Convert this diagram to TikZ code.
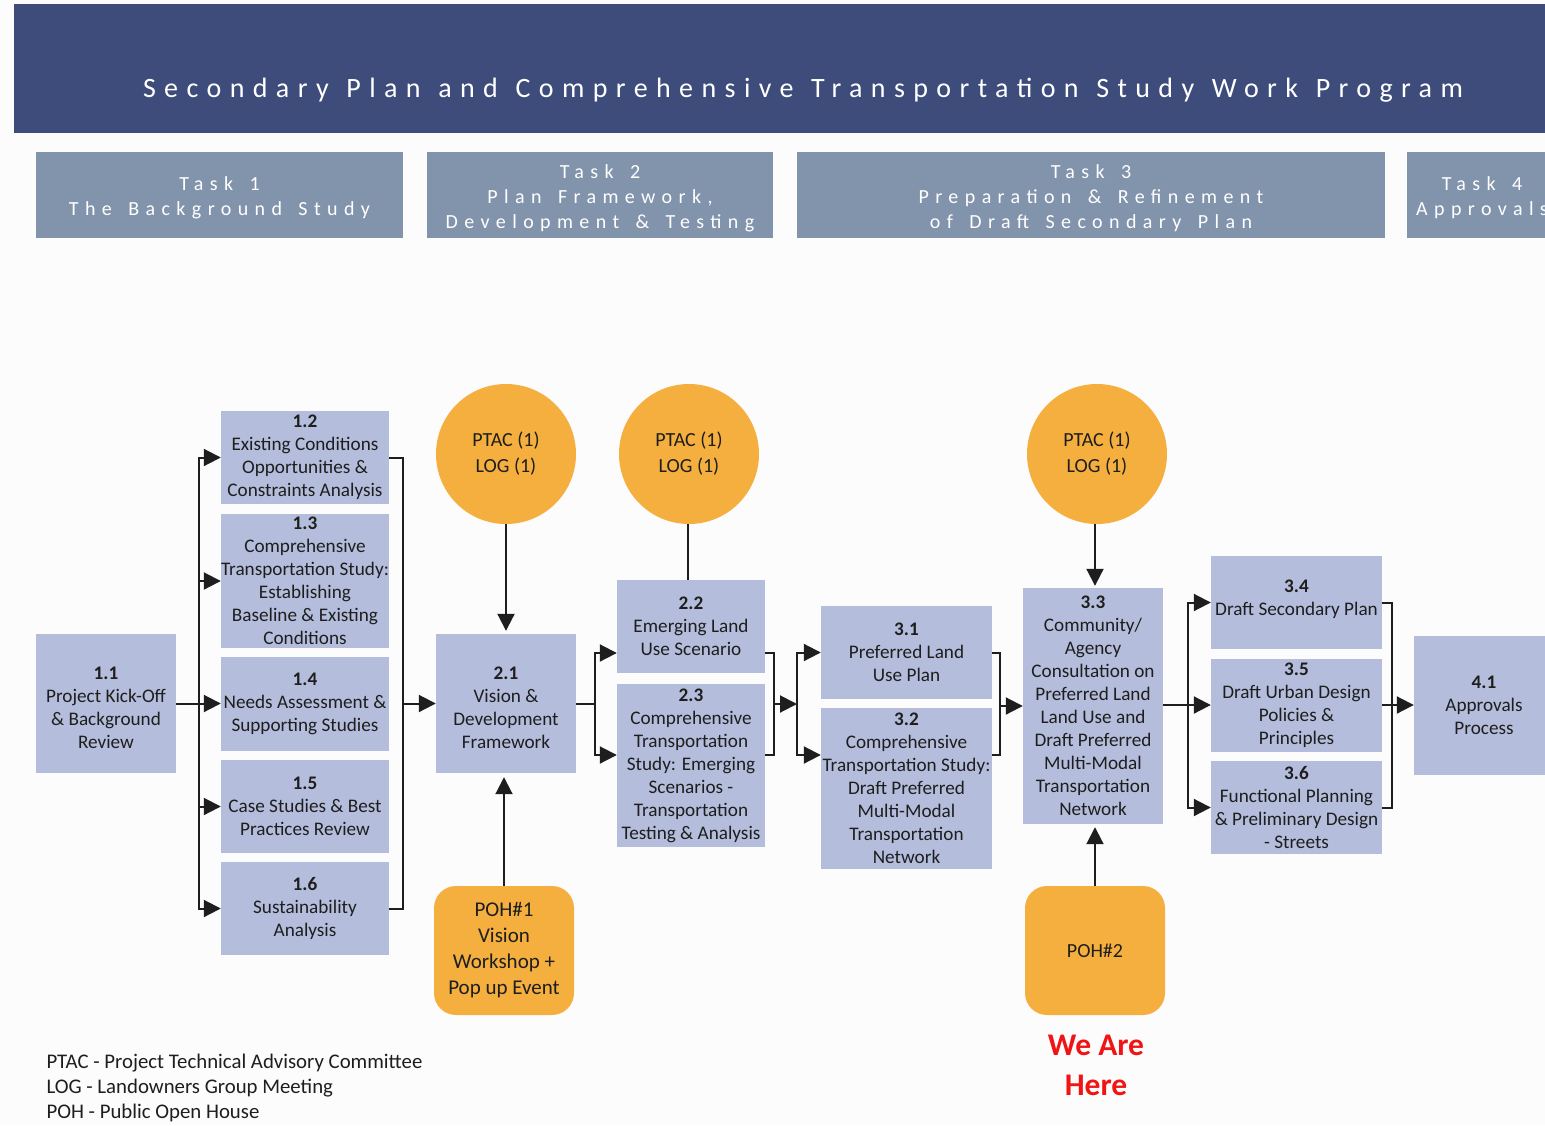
\documentclass[tikz,border=0pt]{standalone}
\usepackage{fontspec}
\setmainfont{Carlito}
\newfontfamily\spacedfont[LetterSpace=32,WordSpace=1.5]{Carlito}
\newfontfamily\titlefont[LetterSpace=30,WordSpace=1.2]{Carlito}
\usepackage{tikz}
\usetikzlibrary{positioning}
\usetikzlibrary{arrows.meta}

\definecolor{bannerblue}{RGB}{62,76,124}
\definecolor{taskgrey}{RGB}{130,148,172}
\definecolor{boxblue}{RGB}{180,190,220}
\definecolor{meetorange}{RGB}{245,175,62}
\definecolor{inkgrey}{RGB}{30,30,30}
\definecolor{herered}{RGB}{240,20,20}

\tikzset{
	task/.style={fill=taskgrey, text=white, align=center, inner sep=0pt,
		minimum height=86pt, font=\spacedfont\fontsize{20}{25}\selectfont},
	stepbox/.style={fill=boxblue, text=inkgrey, align=center, inner sep=0pt,
		font=\fontsize{19.2}{23}\selectfont},
	meeting/.style={circle, fill=meetorange, text=inkgrey, align=center, inner sep=0pt,
		minimum size=140pt, font=\fontsize{20}{26}\selectfont},
	openhouse/.style={rounded corners=22pt, fill=meetorange, text=inkgrey, align=center,
		inner sep=0pt, minimum width=140pt, minimum height=129pt, font=\fontsize{21}{26}\selectfont},
	link/.style={line width=2pt, draw=inkgrey},
	flow/.style={link, -{Triangle[length=17pt,width=17pt]}},
}

\begin{document}
\begin{tikzpicture}[x=1pt,y=-1pt]
	\useasboundingbox (0,0) rectangle (1545,1125);
	\clip (0,0) rectangle (1545,1125);
	\fill[white!99!black] (0,0) rectangle (1545,1125);

	%Banner
	\fill[bannerblue] (14,4) rectangle (1560,133);
	\node[text=white, font=\titlefont\fontsize{28}{30}\selectfont] (title) at (803,90)
		{Secondary Plan and Comprehensive Transportation Study Work Program};

	%Tasks
	\node[task, minimum width=367pt] (T1) at (219.5,195) {\mbox{}\\[-5pt]Task 1\\The Background Study};
	\node[task, minimum width=346pt] (T2) at (600,195) {\mbox{}\\[-5pt]Task 2\\Plan Framework,\\Development \& Testing};
	\node[task, minimum width=588pt] (T3) at (1091,195) {\mbox{}\\[-5pt]Task 3\\Preparation \& Refinement\\of Draft Secondary Plan};
	\node[task, minimum width=150pt] (T4) at (1482,195) {\mbox{}\\[-5pt]Task 4\\Approvals};

	%Task 1 boxes
	\node[stepbox, minimum width=140pt, minimum height=139pt] (n11) at (106,703.5) {\mbox{}\\[-1pt]\textbf{1.1}\\Project Kick-Off\\\& Background\\Review};
	\node[stepbox, minimum width=168pt, minimum height=93pt] (n12) at (305,457.5) {\textbf{1.2}\\Existing Conditions\\Opportunities \&\\Constraints Analysis};
	\node[stepbox, minimum width=168pt, minimum height=134pt] (n13) at (305,581) {\textbf{1.3}\\Comprehensive\\Transportation Study:\\Establishing\\Baseline \& Existing\\Conditions};
	\node[stepbox, minimum width=168pt, minimum height=94pt] (n14) at (305,703.5) {\textbf{1.4}\\Needs Assessment \&\\Supporting Studies};
	\node[stepbox, minimum width=168pt, minimum height=93pt] (n15) at (305,806.5) {\textbf{1.5}\\Case Studies \& Best\\Practices Review};
	\node[stepbox, minimum width=168pt, minimum height=93pt] (n16) at (305,908.5) {\textbf{1.6}\\Sustainability\\Analysis};

	%Task 2 boxes
	\node[stepbox, minimum width=140pt, minimum height=139pt] (n21) at (506,703.5) {\mbox{}\\[-1pt]\textbf{2.1}\\Vision \&\\Development\\Framework};
	\node[stepbox, minimum width=148pt, minimum height=93pt] (n22) at (691,626.5) {\textbf{2.2}\\Emerging Land\\Use Scenario};
	\node[stepbox, minimum width=148pt, minimum height=163pt] (n23) at (691,765.5) {\textbf{2.3}\\Comprehensive\\Transportation\\Study: Emerging\\Scenarios -\\Transportation\\Testing \& Analysis};

	%Task 3 boxes
	\node[stepbox, minimum width=171pt, minimum height=93pt] (n31) at (906.5,652.5) {\textbf{3.1}\\Preferred Land\\Use Plan};
	\node[stepbox, minimum width=171pt, minimum height=161pt] (n32) at (906.5,788.5) {\textbf{3.2}\\Comprehensive\\Transportation Study:\\Draft Preferred\\Multi-Modal\\Transportation\\Network};
	\node[stepbox, minimum width=140pt, minimum height=236pt] (n33) at (1093,706) {\textbf{3.3}\\Community/\\Agency\\Consultation on\\Preferred Land\\Land Use and\\Draft Preferred\\Multi-Modal\\Transportation\\Network};
	\node[stepbox, minimum width=171pt, minimum height=93pt] (n34) at (1296.5,602.5) {\textbf{3.4}\\Draft Secondary Plan\\[-14pt]\mbox{}};
	\node[stepbox, minimum width=171pt, minimum height=93pt] (n35) at (1296.5,705) {\textbf{3.5}\\Draft Urban Design\\Policies \&\\Principles};
	\node[stepbox, minimum width=171pt, minimum height=93pt] (n36) at (1296.5,807.5) {\textbf{3.6}\\Functional Planning\\\& Preliminary Design\\- Streets};

	%Task 4 box
	\node[stepbox, minimum width=140pt, minimum height=139pt] (n41) at (1484,705) {\textbf{4.1}\\Approvals\\Process};

	%Meetings
	\node[meeting] (c1) at (506,454) {PTAC (1)\\LOG (1)};
	\node[meeting] (c2) at (689,454) {PTAC (1)\\LOG (1)};
	\node[meeting] (c3) at (1097,454) {PTAC (1)\\LOG (1)};
	\node[openhouse] (p1) at (504,950.5) {POH\#1\\Vision\\Workshop +\\Pop up Event};
	\node[openhouse, font=\fontsize{20}{26}\selectfont] (p2) at (1095,950.5) {POH\#2};
	\node[text=herered, align=center, font=\bfseries\fontsize{31.5}{40}\selectfont] (here) at (1096,1065) {We Are\\Here};

	%Legend
	\node[anchor=west, align=left, text=inkgrey, font=\fontsize{20.8}{25}\selectfont] (legend) at (43,1088)
		{PTAC - Project Technical Advisory Committee\\LOG - Landowners Group Meeting\\POH - Public Open House};

	%Connectors, task 1
	\coordinate (b1in) at (199,703.5);
	\coordinate (b1out) at (403,703.5);
	\draw[link] (n11.east) -- (b1in);
	\draw[flow] (b1in) |- (n12.west);
	\draw[flow] (b1in) |- (n13.west);
	\draw[flow] (b1in) -- (n14.west);
	\draw[flow] (b1in) |- (n15.west);
	\draw[flow] (b1in) |- (n16.west);
	\draw[link] (n12.east) -| (b1out) |- (n16.east);
	\draw[flow] (b1out) -- (n21.west);

	%Connectors, task 2
	\draw[flow, shorten >=3pt] (c1.south) -- (n21.north);
	\draw[flow, shorten >=4pt] (p1.north) -- (p1.north |- n21.south);
	\coordinate (b2in) at (595,703.5);
	\coordinate (b2out) at (774,704);
	\draw[link] (n21.east) -- (b2in);
	\draw[flow] (b2in) |- (n22.west |- 0,653);
	\draw[flow] (b2in) |- (n23.west |- 0,755);
	\draw[link] (c2.south -| n22.north) ++(-3,0) coordinate (c2foot) -- (c2foot |- n22.north);
	\draw[link] (n22.east |- 0,653) -| (b2out) |- (n23.east |- 0,755);

	%Connectors, task 3
	\coordinate (b3in) at (797,704);
	\coordinate (b3out) at (1000,706);
	\draw[flow] (b2out) -- (b3in);
	\draw[flow] (b3in) |- (n31.west);
	\draw[flow] (b3in) |- (n32.west |- 0,755);
	\draw[link] (n31.east) -| (b3out) |- (n32.east |- 0,755);
	\draw[flow] (b3out) -- (n33.west);
	\draw[flow, shorten >=2pt] (c3.south) ++(-2,0) coordinate (c3foot) -- (c3foot |- n33.north);
	\draw[flow, shorten >=3pt] (p2.north) -- (p2.north |- n33.south);
	\coordinate (b4in) at (1188,705);
	\coordinate (b4out) at (1392,705);
	\draw[link] (n33.east |- b4in) -- (b4in);
	\draw[flow] (b4in) |- (n34.west);
	\draw[flow] (b4in) -- (n35.west);
	\draw[flow] (b4in) |- (n36.west);
	\draw[link] (n34.east) -| (b4out) |- (n36.east);
	\draw[flow] (n35.east) -- (n41.west);
\end{tikzpicture}
\end{document}
